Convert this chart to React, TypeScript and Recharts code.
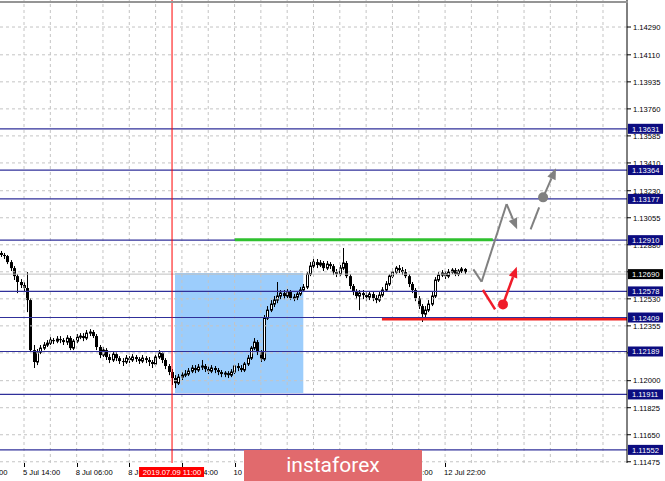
import React from "react";
import {
  ComposedChart,
  Bar,
  XAxis,
  YAxis,
  ReferenceLine,
  ReferenceArea,
  ReferenceDot,
} from "recharts";

// EURUSD H1, 4-12 Jul 2019. Bars are indexed 0..141, open = previous close.
const firstOpen = 1.12827;

const closes = [
  1.12814, 1.12807, 1.12768, 1.12729, 1.12677, 1.12639, 1.12619, 1.126, 1.12522, 1.12198,
  1.12121, 1.12185, 1.12211, 1.12231, 1.12243, 1.12263, 1.12256, 1.12269, 1.12263, 1.1225,
  1.12276, 1.12211, 1.12256, 1.12282, 1.12289, 1.12276, 1.12308, 1.12315, 1.12289, 1.12218,
  1.12166, 1.12198, 1.12153, 1.12134, 1.12172, 1.12146, 1.12127, 1.12121, 1.12146, 1.12134,
  1.12153, 1.1214, 1.12127, 1.12146, 1.12134, 1.12121, 1.12108, 1.12153, 1.12179, 1.12134,
  1.12095, 1.12056, 1.12017, 1.11984, 1.12023, 1.12036, 1.12043, 1.12062, 1.12082, 1.12069,
  1.12088, 1.12095, 1.12075, 1.12062, 1.12082, 1.12069, 1.12056, 1.12043, 1.12049, 1.12036,
  1.12056, 1.12095, 1.12082, 1.12069, 1.12108, 1.12146, 1.12211, 1.1225, 1.12185, 1.1214,
  1.12405, 1.12457, 1.12496, 1.12522, 1.12548, 1.12567, 1.12548, 1.12574, 1.12535, 1.12541,
  1.12561, 1.12587, 1.12606, 1.1269, 1.12742, 1.12768, 1.12749, 1.12762, 1.12729, 1.12755,
  1.12742, 1.12703, 1.1269, 1.12729, 1.12762, 1.12677, 1.12613, 1.12574, 1.12548, 1.12567,
  1.12554, 1.12541, 1.12561, 1.12535, 1.12522, 1.12554, 1.12587, 1.12626, 1.12677, 1.12703,
  1.12729, 1.12716, 1.12703, 1.12677, 1.12626, 1.12587, 1.12535, 1.12483, 1.12431, 1.12457,
  1.12496, 1.12548, 1.12652, 1.12684, 1.12697, 1.12677, 1.12703, 1.12716, 1.1269, 1.1271,
  1.12723, 1.12703,
];

const highs = [
  1.1284, 1.12827, 1.12814, 1.12781, 1.12742, 1.1269, 1.12658, 1.12639, 1.12703, 1.12535,
  1.12231, 1.12205, 1.12231, 1.1225, 1.12263, 1.12282, 1.12276, 1.12289, 1.12289, 1.12276,
  1.12295, 1.12289, 1.12269, 1.12302, 1.12308, 1.12308, 1.12328, 1.12334, 1.12328, 1.12302,
  1.12231, 1.12218, 1.12211, 1.12172, 1.12185, 1.12185, 1.12159, 1.12146, 1.12166, 1.12159,
  1.12172, 1.12166, 1.12153, 1.12166, 1.12159, 1.12153, 1.12134, 1.12166, 1.12198, 1.12185,
  1.12146, 1.12108, 1.12075, 1.12036, 1.12043, 1.12056, 1.12069, 1.12082, 1.12101, 1.12101,
  1.12108, 1.12134, 1.12108, 1.12095, 1.12101, 1.12095, 1.12082, 1.12069, 1.12062, 1.12062,
  1.12075, 1.12108, 1.12114, 1.12101, 1.12121, 1.12166, 1.12224, 1.12276, 1.12263, 1.12198,
  1.12425, 1.12483, 1.12522, 1.12548, 1.12639, 1.12587, 1.12587, 1.12593, 1.12587, 1.12561,
  1.1258, 1.12606, 1.12626, 1.12703, 1.12768, 1.12807, 1.12788, 1.12781, 1.12775, 1.12775,
  1.12768, 1.12755, 1.12723, 1.12749, 1.12859, 1.12775, 1.1269, 1.12626, 1.12593, 1.12587,
  1.12587, 1.12574, 1.1258, 1.12574, 1.12554, 1.12574, 1.12606, 1.12645, 1.1269, 1.12729,
  1.12742, 1.12749, 1.12736, 1.12723, 1.1269, 1.12639, 1.126, 1.12548, 1.12496, 1.12483,
  1.12522, 1.12574, 1.12671, 1.12703, 1.12716, 1.1271, 1.12723, 1.12729, 1.12729, 1.12723,
  1.12736, 1.12729,
];

const lows = [
  1.12801, 1.12788, 1.12755, 1.1271, 1.12652, 1.12567, 1.126, 1.12574, 1.12444, 1.12185,
  1.12082, 1.12101, 1.12172, 1.12198, 1.12218, 1.12231, 1.12237, 1.12243, 1.12243, 1.12231,
  1.12231, 1.12198, 1.12198, 1.12243, 1.12269, 1.12256, 1.12263, 1.12289, 1.12276, 1.12198,
  1.12146, 1.12153, 1.12134, 1.12114, 1.12121, 1.12127, 1.12108, 1.12095, 1.12108, 1.12114,
  1.12121, 1.12121, 1.12108, 1.12114, 1.12114, 1.12095, 1.12082, 1.12095, 1.1214, 1.12114,
  1.12075, 1.12036, 1.11972, 1.11952, 1.11972, 1.12004, 1.12023, 1.1203, 1.12049, 1.12049,
  1.12056, 1.12069, 1.12056, 1.12043, 1.12049, 1.12049, 1.12036, 1.12023, 1.12023, 1.12017,
  1.12023, 1.12043, 1.12062, 1.12056, 1.12056, 1.12095, 1.12134, 1.12198, 1.12166, 1.12121,
  1.12127, 1.12393, 1.12444, 1.12477, 1.12502, 1.12528, 1.12528, 1.12535, 1.12522, 1.12515,
  1.12522, 1.12548, 1.12574, 1.12593, 1.12677, 1.12729, 1.12729, 1.12736, 1.1271, 1.12716,
  1.12723, 1.12684, 1.12671, 1.12677, 1.12716, 1.12664, 1.12593, 1.12554, 1.12528, 1.12457,
  1.12528, 1.12515, 1.12522, 1.12515, 1.12502, 1.12509, 1.12541, 1.12574, 1.12613, 1.12664,
  1.1269, 1.12697, 1.12684, 1.12664, 1.12606, 1.12567, 1.12515, 1.12464, 1.1238, 1.12405,
  1.12444, 1.12483, 1.12535, 1.12639, 1.12671, 1.12658, 1.12664, 1.1269, 1.12677, 1.12677,
  1.12697, 1.1269,
];

const timeTicks = [-9, 7, 23, 39, 55, 71, 87, 103, 119, 135];
const timeLabels = [
  "4 Jul 22:00", "5 Jul 14:00", "8 Jul 06:00", "8 Jul 22:00", "9 Jul 14:00",
  "10 Jul 06:00", "10 Jul 22:00", "11 Jul 14:00", "12 Jul 06:00", "12 Jul 22:00",
];
const gridBars = [
  7, 15, 23, 31, 39, 47, 55, 63, 71, 79, 87, 95, 103, 111, 119, 127, 135, 143, 151, 159, 167, 175, 183,
];
const priceTicks = [
  1.11475, 1.1165, 1.11825, 1.12, 1.1218, 1.12355, 1.1253, 1.12705, 1.1288,
  1.13055, 1.1323, 1.1341, 1.13585, 1.1376, 1.13935, 1.1411, 1.1429,
];

const levels = [1.13631, 1.13364, 1.13177, 1.1291, 1.12578, 1.12409, 1.12189, 1.11911, 1.11552];
const bid = 1.1269;

const markerBar = 52;
const markerText = "2019.07.09 11:00";

// highlighted range box
const zoneBars = [52.9, 91.9];
const zonePrices = [1.1192, 1.12697];

// resistance / support strokes
const greenBars = [71.1, 149.5];
const greenPrice = 1.12913;
const redBars = [115.8, 190.3];
const redPrice = 1.124;

// scenario arrows: [bar, price]
const grayPath = [
  [143.6, 1.12721],
  [146.1, 1.12641],
  [153.7, 1.13144],
  [156.9, 1.1298],
];
const grayTail = [
  [161.0, 1.1298],
  [163.6, 1.13122],
];
const grayDot = [164.8, 1.13187];
const grayTip = [168.7, 1.13375];
const redStroke = [
  [146.5, 1.12587],
  [150.2, 1.12462],
];
const redDot = [152.6, 1.12494];
const redTip = [156.8, 1.12738];

const X_DOMAIN = [-0.3, 190.3];
const Y_DOMAIN = [1.11467, 1.14465];
const FONT = "'Liberation Sans', Arial, sans-serif";
const LEVEL_BLUE = "#30309a";

const candles = closes.map((close, i) => ({
  t: i,
  open: i === 0 ? firstOpen : closes[i - 1],
  close,
  high: highs[i],
  low: lows[i],
}));

// axis tick lists: plain labels first, tags last so they paint on top
const yAxisTicks = [...priceTicks, ...levels, bid];
const xAxisTicks = [...timeTicks, markerBar];

function Candle(props: any) {
  const { x, y, width, height, payload } = props;
  const cx = Math.round(x + width / 2);
  const { open, close, high, low } = payload;
  const k = high > low ? height / (high - low) : 0;
  const top = y + (high - Math.max(open, close)) * k;
  const bot = y + (high - Math.min(open, close)) * k;
  const bh = Math.max(1, bot - top);
  const up = close >= open;
  return (
    <g>
      <line x1={cx + 0.5} x2={cx + 0.5} y1={y} y2={y + height} stroke="#000" strokeWidth={1} />
      {up ? (
        <rect x={cx - 0.5} y={top} width={2} height={bh} fill="#fff" stroke="#000" strokeWidth={1} />
      ) : (
        <rect x={cx - 1} y={top} width={3} height={bh} fill="#000" />
      )}
    </g>
  );
}

function TimeTick(props: any) {
  const { x, y, payload } = props;
  if (payload.value === markerBar) {
    return (
      <g>
        <rect x={x - 33} y={y + 4} width={65} height={10} fill="#ff0000" />
        <text x={x} y={y + 12} fontSize={7.6} fontFamily={FONT} fill="#fff" textAnchor="middle">
          {markerText}
        </text>
      </g>
    );
  }
  const i = timeTicks.indexOf(payload.value);
  const px = Math.round(x) + 0.5;
  return (
    <g>
      <line x1={px} x2={px} y1={y} y2={y + 4} stroke="#000" />
      <text x={x - 1} y={y + 12} fontSize={7.6} fontFamily={FONT} fill="#000">
        {timeLabels[i]}
      </text>
    </g>
  );
}

function PriceTick(props: any) {
  const { x, y, payload } = props;
  const v = Number(payload.value);
  const isLevel = levels.includes(v);
  const isBid = v === bid;
  if (isLevel || isBid) {
    return (
      <g>
        <rect x={x + 1} y={y - 5} width={35} height={10} fill={isBid ? "#000" : "#0c0c80"} />
        <text x={x + 5} y={y + 3} fontSize={7.6} fontFamily={FONT} fill="#fff">
          {v.toFixed(5)}
        </text>
      </g>
    );
  }
  return (
    <g>
      <line x1={x} x2={x + 4} y1={y} y2={y} stroke="#000" />
      <text x={x + 6} y={y + 2.8} fontSize={7.6} fontFamily={FONT} fill="#000">
        {v.toFixed(5)}
      </text>
    </g>
  );
}

const arrowShape = (p: any) => {
  const { x1, y1, x2, y2, stroke, strokeWidth } = p;
  const a = Math.atan2(y2 - y1, x2 - x1);
  const len = 11;
  const half = 4.5;
  const bx = x2 - len * Math.cos(a);
  const by = y2 - len * Math.sin(a);
  const nx = -Math.sin(a) * half;
  const ny = Math.cos(a) * half;
  return (
    <g>
      <line x1={x1} y1={y1} x2={bx} y2={by} stroke={stroke} strokeWidth={strokeWidth} />
      <polygon points={`${x2},${y2} ${bx + nx},${by + ny} ${bx - nx},${by - ny}`} fill={stroke} />
    </g>
  );
};

const seg = (a: number[], b: number[]) => [
  { x: a[0], y: a[1] },
  { x: b[0], y: b[1] },
];

export default function App() {
  return (
    <div style={{ position: "absolute", left: 0, top: 0, width: 665, height: 481, background: "#fff" }}>
      <ComposedChart
        width={665}
        height={481}
        data={candles}
        margin={{ top: 0, right: 0, bottom: 0, left: 0 }}
      >
        <XAxis
          dataKey="t"
          type="number"
          domain={X_DOMAIN}
          allowDataOverflow
          ticks={xAxisTicks}
          interval={0}
          height={18}
          axisLine={false}
          tickLine={false}
          tickSize={0}
          tickMargin={0}
          tick={<TimeTick />}
        />
        <YAxis
          orientation="right"
          type="number"
          domain={Y_DOMAIN}
          allowDataOverflow
          ticks={yAxisTicks}
          interval={0}
          width={38}
          axisLine={{ stroke: "#000" }}
          tickLine={false}
          tickSize={0}
          tickMargin={0}
          tick={<PriceTick />}
        />

        <ReferenceArea
          x1={zoneBars[0]}
          x2={zoneBars[1]}
          y1={zonePrices[0]}
          y2={zonePrices[1]}
          fill="#9ccdfc"
          fillOpacity={1}
          stroke="none"
        />

        {priceTicks.map((v) => (
          <ReferenceLine key={"h" + v} y={v} stroke="#c4c4c4" strokeDasharray="3 3" />
        ))}
        {gridBars.map((b) => (
          <ReferenceLine key={"v" + b} x={b} stroke="#c4c4c4" strokeDasharray="3 3" />
        ))}

        <ReferenceLine y={bid} stroke="#c0c0c0" strokeWidth={1} />
        <ReferenceLine
          segment={[
            { x: redBars[0], y: redPrice },
            { x: redBars[1], y: redPrice },
          ]}
          stroke="#f01c1c"
          strokeWidth={3}
        />
        {levels.map((v) => (
          <ReferenceLine key={"l" + v} y={v} stroke={LEVEL_BLUE} strokeWidth={1.2} />
        ))}
        <ReferenceLine
          segment={[
            { x: greenBars[0], y: greenPrice },
            { x: greenBars[1], y: greenPrice },
          ]}
          stroke="#2fc12f"
          strokeWidth={3}
        />
        <ReferenceLine x={markerBar} stroke="#ff0000" strokeWidth={1} />

        <Bar
          dataKey={(d: any) => [d.low, d.high]}
          barSize={3}
          shape={<Candle />}
          isAnimationActive={false}
        />

        {/* scenario arrows */}
        <ReferenceLine segment={seg(grayPath[0], grayPath[1])} stroke="#808080" strokeWidth={2} />
        <ReferenceLine segment={seg(grayPath[1], grayPath[2])} stroke="#808080" strokeWidth={2} />
        <ReferenceLine segment={seg(grayPath[2], grayPath[3])} stroke="#808080" strokeWidth={2} shape={arrowShape} />
        <ReferenceLine segment={seg(grayTail[0], grayTail[1])} stroke="#808080" strokeWidth={2} />
        <ReferenceLine segment={seg(grayDot, grayTip)} stroke="#808080" strokeWidth={2} shape={arrowShape} />
        <ReferenceDot x={grayDot[0]} y={grayDot[1]} r={5} fill="#808080" stroke="none" />
        <ReferenceLine segment={seg(redStroke[0], redStroke[1])} stroke="#f01c2a" strokeWidth={2.5} />
        <ReferenceLine segment={seg(redDot, redTip)} stroke="#f01c2a" strokeWidth={2.5} shape={arrowShape} />
        <ReferenceDot x={redDot[0]} y={redDot[1]} r={5} fill="#f01c2a" stroke="none" />
      </ComposedChart>

      <div
        style={{
          position: "absolute",
          left: 0,
          top: 1,
          width: 628,
          height: 2,
          background: "#959595",
        }}
      />
      <div
        style={{
          position: "absolute",
          left: 244,
          top: 450,
          width: 178,
          height: 31,
          background: "#e16a6d",
          color: "#fff",
          display: "flex",
          alignItems: "center",
          justifyContent: "center",
          fontFamily: "Roboto, 'Open Sans', sans-serif",
          fontSize: 21,
          lineHeight: "31px",
        }}
      >
        instaforex
      </div>
    </div>
  );
}
